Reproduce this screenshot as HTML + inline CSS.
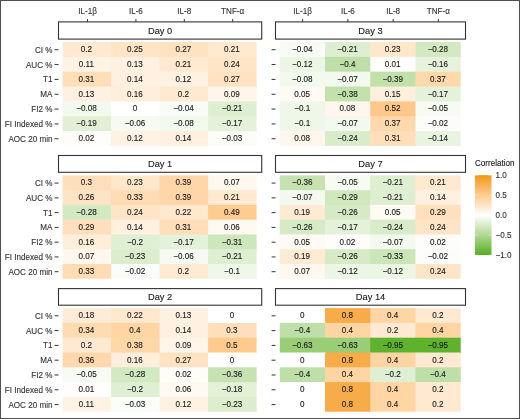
<!DOCTYPE html>
<html><head><meta charset="utf-8"><title>Correlation heatmap</title>
<style>
html,body{margin:0;padding:0;background:#fff;}
body{width:520px;height:419px;overflow:hidden;}
svg{display:block;will-change:transform;font-family:"Liberation Sans",sans-serif;}
text{font-family:"Liberation Sans",sans-serif;stroke-width:0.12px;paint-order:stroke;}
.v{font-size:8.1px;fill:#1a1a1a;stroke:#1a1a1a;text-anchor:middle;}
.st{font-size:9.3px;fill:#1a1a1a;stroke:#1a1a1a;text-anchor:middle;}
.yl{font-size:8.1px;fill:#333;stroke:#333;text-anchor:end;}
.xl{font-size:8.1px;fill:#333;stroke:#333;text-anchor:middle;}
.lt{font-size:8.1px;fill:#1a1a1a;stroke:#1a1a1a;}
.ll{font-size:8.1px;fill:#333;stroke:#333;}
.tk{stroke:#333;stroke-width:1;}
.lk{stroke:#fff;stroke-width:0.6;stroke-opacity:0.6;}
.strip{fill:#fff;stroke:#333;stroke-width:1.1;}
</style></head>
<body>
<svg width="520" height="419" viewBox="0 0 520 419">
<rect x="0" y="0" width="520" height="419" fill="#fff"/>
<rect x="62.60" y="42.00" width="49.50" height="15.84" fill="#ffead1"/>
<rect x="111.10" y="42.00" width="49.50" height="15.84" fill="#ffe4c6"/>
<rect x="159.60" y="42.00" width="49.50" height="15.84" fill="#ffe2c2"/>
<rect x="208.10" y="42.00" width="48.50" height="15.84" fill="#ffe9cf"/>
<rect x="62.60" y="56.84" width="49.50" height="15.84" fill="#fff3e6"/>
<rect x="111.10" y="56.84" width="49.50" height="15.84" fill="#fff1e1"/>
<rect x="159.60" y="56.84" width="49.50" height="15.84" fill="#ffe9cf"/>
<rect x="208.10" y="56.84" width="48.50" height="15.84" fill="#ffe5c8"/>
<rect x="62.60" y="71.69" width="49.50" height="15.84" fill="#ffdeb9"/>
<rect x="111.10" y="71.69" width="49.50" height="15.84" fill="#fff0df"/>
<rect x="159.60" y="71.69" width="49.50" height="15.84" fill="#fff2e3"/>
<rect x="208.10" y="71.69" width="48.50" height="15.84" fill="#ffe2c2"/>
<rect x="62.60" y="86.53" width="49.50" height="15.84" fill="#fff1e1"/>
<rect x="111.10" y="86.53" width="49.50" height="15.84" fill="#ffeeda"/>
<rect x="159.60" y="86.53" width="49.50" height="15.84" fill="#ffead1"/>
<rect x="208.10" y="86.53" width="48.50" height="15.84" fill="#fff5ea"/>
<rect x="62.60" y="101.37" width="49.50" height="15.84" fill="#f2f9ed"/>
<rect x="111.10" y="101.37" width="49.50" height="15.84" fill="#ffffff"/>
<rect x="159.60" y="101.37" width="49.50" height="15.84" fill="#f9fcf6"/>
<rect x="208.10" y="101.37" width="48.50" height="15.84" fill="#deeed1"/>
<rect x="62.60" y="116.21" width="49.50" height="15.84" fill="#e1f0d5"/>
<rect x="111.10" y="116.21" width="49.50" height="15.84" fill="#f6faf2"/>
<rect x="159.60" y="116.21" width="49.50" height="15.84" fill="#f2f9ed"/>
<rect x="208.10" y="116.21" width="48.50" height="15.84" fill="#e4f2d9"/>
<rect x="62.60" y="131.06" width="49.50" height="14.84" fill="#fffdfa"/>
<rect x="111.10" y="131.06" width="49.50" height="14.84" fill="#fff2e3"/>
<rect x="159.60" y="131.06" width="49.50" height="14.84" fill="#fff0df"/>
<rect x="208.10" y="131.06" width="48.50" height="14.84" fill="#fafdf8"/>
<text x="86.45" y="51.86" class="v" transform="matrix(1,0,0,1.07,0,-3.432)">0.2</text>
<text x="134.95" y="51.86" class="v" transform="matrix(1,0,0,1.07,0,-3.432)">0.25</text>
<text x="183.45" y="51.86" class="v" transform="matrix(1,0,0,1.07,0,-3.432)">0.27</text>
<text x="231.95" y="51.86" class="v" transform="matrix(1,0,0,1.07,0,-3.432)">0.21</text>
<text x="86.45" y="66.70" class="v" transform="matrix(1,0,0,1.07,0,-4.471)">0.11</text>
<text x="134.95" y="66.70" class="v" transform="matrix(1,0,0,1.07,0,-4.471)">0.13</text>
<text x="183.45" y="66.70" class="v" transform="matrix(1,0,0,1.07,0,-4.471)">0.21</text>
<text x="231.95" y="66.70" class="v" transform="matrix(1,0,0,1.07,0,-4.471)">0.24</text>
<text x="86.45" y="81.54" class="v" transform="matrix(1,0,0,1.07,0,-5.510)">0.31</text>
<text x="134.95" y="81.54" class="v" transform="matrix(1,0,0,1.07,0,-5.510)">0.14</text>
<text x="183.45" y="81.54" class="v" transform="matrix(1,0,0,1.07,0,-5.510)">0.12</text>
<text x="231.95" y="81.54" class="v" transform="matrix(1,0,0,1.07,0,-5.510)">0.27</text>
<text x="86.45" y="96.38" class="v" transform="matrix(1,0,0,1.07,0,-6.549)">0.13</text>
<text x="134.95" y="96.38" class="v" transform="matrix(1,0,0,1.07,0,-6.549)">0.16</text>
<text x="183.45" y="96.38" class="v" transform="matrix(1,0,0,1.07,0,-6.549)">0.2</text>
<text x="231.95" y="96.38" class="v" transform="matrix(1,0,0,1.07,0,-6.549)">0.09</text>
<text x="86.45" y="111.23" class="v" transform="matrix(1,0,0,1.07,0,-7.588)">−0.08</text>
<text x="134.95" y="111.23" class="v" transform="matrix(1,0,0,1.07,0,-7.588)">0</text>
<text x="183.45" y="111.23" class="v" transform="matrix(1,0,0,1.07,0,-7.588)">−0.04</text>
<text x="231.95" y="111.23" class="v" transform="matrix(1,0,0,1.07,0,-7.588)">−0.21</text>
<text x="86.45" y="126.07" class="v" transform="matrix(1,0,0,1.07,0,-8.627)">−0.19</text>
<text x="134.95" y="126.07" class="v" transform="matrix(1,0,0,1.07,0,-8.627)">−0.06</text>
<text x="183.45" y="126.07" class="v" transform="matrix(1,0,0,1.07,0,-8.627)">−0.08</text>
<text x="231.95" y="126.07" class="v" transform="matrix(1,0,0,1.07,0,-8.627)">−0.17</text>
<text x="86.45" y="140.91" class="v" transform="matrix(1,0,0,1.07,0,-9.666)">0.02</text>
<text x="134.95" y="140.91" class="v" transform="matrix(1,0,0,1.07,0,-9.666)">0.12</text>
<text x="183.45" y="140.91" class="v" transform="matrix(1,0,0,1.07,0,-9.666)">0.14</text>
<text x="231.95" y="140.91" class="v" transform="matrix(1,0,0,1.07,0,-9.666)">−0.03</text>
<rect x="58.50" y="21.90" width="203.20" height="17.20" class="strip"/>
<text x="160.10" y="33.55" class="st">Day 0</text>
<line x1="54.60" x2="58.50" y1="49.72" y2="49.72" class="tk"/>
<text x="52.50" y="52.56" class="yl" transform="matrix(1,0,0,1.07,0,-3.481)">CI %</text>
<line x1="54.60" x2="58.50" y1="64.56" y2="64.56" class="tk"/>
<text x="52.50" y="67.40" class="yl" transform="matrix(1,0,0,1.07,0,-4.520)">AUC %</text>
<line x1="54.60" x2="58.50" y1="79.41" y2="79.41" class="tk"/>
<text x="52.50" y="82.24" class="yl" transform="matrix(1,0,0,1.07,0,-5.559)">T1</text>
<line x1="54.60" x2="58.50" y1="94.25" y2="94.25" class="tk"/>
<text x="52.50" y="97.08" class="yl" transform="matrix(1,0,0,1.07,0,-6.598)">MA</text>
<line x1="54.60" x2="58.50" y1="109.09" y2="109.09" class="tk"/>
<text x="52.50" y="111.93" class="yl" transform="matrix(1,0,0,1.07,0,-7.637)">FI2 %</text>
<line x1="54.60" x2="58.50" y1="123.94" y2="123.94" class="tk"/>
<text x="52.50" y="126.77" class="yl" transform="matrix(1,0,0,1.07,0,-8.676)">FI Indexed %</text>
<line x1="54.60" x2="58.50" y1="138.78" y2="138.78" class="tk"/>
<text x="52.50" y="141.61" class="yl" transform="matrix(1,0,0,1.07,0,-9.715)">AOC 20 min</text>
<line x1="87.53" x2="87.53" y1="19.10" y2="21.90" class="tk"/>
<text x="87.53" y="14.00" class="xl" transform="matrix(1,0,0,1.07,0,-0.777)">IL-1β</text>
<line x1="135.91" x2="135.91" y1="19.10" y2="21.90" class="tk"/>
<text x="135.91" y="14.00" class="xl" transform="matrix(1,0,0,1.07,0,-0.777)">IL-6</text>
<line x1="184.29" x2="184.29" y1="19.10" y2="21.90" class="tk"/>
<text x="184.29" y="14.00" class="xl" transform="matrix(1,0,0,1.07,0,-0.777)">IL-8</text>
<line x1="232.67" x2="232.67" y1="19.10" y2="21.90" class="tk"/>
<text x="232.67" y="14.00" class="xl" transform="matrix(1,0,0,1.07,0,-0.777)">TNF-α</text>
<rect x="279.80" y="42.00" width="46.22" height="15.84" fill="#f9fcf6"/>
<rect x="325.02" y="42.00" width="46.22" height="15.84" fill="#deeed1"/>
<rect x="370.25" y="42.00" width="46.22" height="15.84" fill="#ffe7cb"/>
<rect x="415.48" y="42.00" width="45.22" height="15.84" fill="#d3e9c1"/>
<rect x="279.80" y="56.84" width="46.22" height="15.84" fill="#ecf6e4"/>
<rect x="325.02" y="56.84" width="46.22" height="15.84" fill="#bfdfa8"/>
<rect x="370.25" y="56.84" width="46.22" height="15.84" fill="#fffefd"/>
<rect x="415.48" y="56.84" width="45.22" height="15.84" fill="#e6f2dc"/>
<rect x="279.80" y="71.69" width="46.22" height="15.84" fill="#f2f9ed"/>
<rect x="325.02" y="71.69" width="46.22" height="15.84" fill="#f4f9ef"/>
<rect x="370.25" y="71.69" width="46.22" height="15.84" fill="#c1e0aa"/>
<rect x="415.48" y="71.69" width="45.22" height="15.84" fill="#ffd8ab"/>
<rect x="279.80" y="86.53" width="46.22" height="15.84" fill="#fffaf3"/>
<rect x="325.02" y="86.53" width="46.22" height="15.84" fill="#c3e1ac"/>
<rect x="370.25" y="86.53" width="46.22" height="15.84" fill="#ffefdd"/>
<rect x="415.48" y="86.53" width="45.22" height="15.84" fill="#e4f2d9"/>
<rect x="279.80" y="101.37" width="46.22" height="15.84" fill="#eff7e9"/>
<rect x="325.02" y="101.37" width="46.22" height="15.84" fill="#fff6ed"/>
<rect x="370.25" y="101.37" width="46.22" height="15.84" fill="#ffc88a"/>
<rect x="415.48" y="101.37" width="45.22" height="15.84" fill="#f7fbf4"/>
<rect x="279.80" y="116.21" width="46.22" height="15.84" fill="#eff7e9"/>
<rect x="325.02" y="116.21" width="46.22" height="15.84" fill="#f4f9ef"/>
<rect x="370.25" y="116.21" width="46.22" height="15.84" fill="#ffd8ab"/>
<rect x="415.48" y="116.21" width="45.22" height="15.84" fill="#fcfdfb"/>
<rect x="279.80" y="131.06" width="46.22" height="14.84" fill="#fff6ed"/>
<rect x="325.02" y="131.06" width="46.22" height="14.84" fill="#d9ecca"/>
<rect x="370.25" y="131.06" width="46.22" height="14.84" fill="#ffdeb9"/>
<rect x="415.48" y="131.06" width="45.22" height="14.84" fill="#e9f4e0"/>
<text x="302.21" y="51.86" class="v" transform="matrix(1,0,0,1.07,0,-3.432)">−0.04</text>
<text x="347.44" y="51.86" class="v" transform="matrix(1,0,0,1.07,0,-3.432)">−0.21</text>
<text x="392.66" y="51.86" class="v" transform="matrix(1,0,0,1.07,0,-3.432)">0.23</text>
<text x="437.89" y="51.86" class="v" transform="matrix(1,0,0,1.07,0,-3.432)">−0.28</text>
<text x="302.21" y="66.70" class="v" transform="matrix(1,0,0,1.07,0,-4.471)">−0.12</text>
<text x="347.44" y="66.70" class="v" transform="matrix(1,0,0,1.07,0,-4.471)">−0.4</text>
<text x="392.66" y="66.70" class="v" transform="matrix(1,0,0,1.07,0,-4.471)">0.01</text>
<text x="437.89" y="66.70" class="v" transform="matrix(1,0,0,1.07,0,-4.471)">−0.16</text>
<text x="302.21" y="81.54" class="v" transform="matrix(1,0,0,1.07,0,-5.510)">−0.08</text>
<text x="347.44" y="81.54" class="v" transform="matrix(1,0,0,1.07,0,-5.510)">−0.07</text>
<text x="392.66" y="81.54" class="v" transform="matrix(1,0,0,1.07,0,-5.510)">−0.39</text>
<text x="437.89" y="81.54" class="v" transform="matrix(1,0,0,1.07,0,-5.510)">0.37</text>
<text x="302.21" y="96.38" class="v" transform="matrix(1,0,0,1.07,0,-6.549)">0.05</text>
<text x="347.44" y="96.38" class="v" transform="matrix(1,0,0,1.07,0,-6.549)">−0.38</text>
<text x="392.66" y="96.38" class="v" transform="matrix(1,0,0,1.07,0,-6.549)">0.15</text>
<text x="437.89" y="96.38" class="v" transform="matrix(1,0,0,1.07,0,-6.549)">−0.17</text>
<text x="302.21" y="111.23" class="v" transform="matrix(1,0,0,1.07,0,-7.588)">−0.1</text>
<text x="347.44" y="111.23" class="v" transform="matrix(1,0,0,1.07,0,-7.588)">0.08</text>
<text x="392.66" y="111.23" class="v" transform="matrix(1,0,0,1.07,0,-7.588)">0.52</text>
<text x="437.89" y="111.23" class="v" transform="matrix(1,0,0,1.07,0,-7.588)">−0.05</text>
<text x="302.21" y="126.07" class="v" transform="matrix(1,0,0,1.07,0,-8.627)">−0.1</text>
<text x="347.44" y="126.07" class="v" transform="matrix(1,0,0,1.07,0,-8.627)">−0.07</text>
<text x="392.66" y="126.07" class="v" transform="matrix(1,0,0,1.07,0,-8.627)">0.37</text>
<text x="437.89" y="126.07" class="v" transform="matrix(1,0,0,1.07,0,-8.627)">−0.02</text>
<text x="302.21" y="140.91" class="v" transform="matrix(1,0,0,1.07,0,-9.666)">0.08</text>
<text x="347.44" y="140.91" class="v" transform="matrix(1,0,0,1.07,0,-9.666)">−0.24</text>
<text x="392.66" y="140.91" class="v" transform="matrix(1,0,0,1.07,0,-9.666)">0.31</text>
<text x="437.89" y="140.91" class="v" transform="matrix(1,0,0,1.07,0,-9.666)">−0.14</text>
<rect x="275.50" y="21.90" width="190.00" height="17.20" class="strip"/>
<text x="370.50" y="33.55" class="st">Day 3</text>
<line x1="271.60" x2="275.50" y1="49.72" y2="49.72" class="tk"/>
<line x1="271.60" x2="275.50" y1="64.56" y2="64.56" class="tk"/>
<line x1="271.60" x2="275.50" y1="79.41" y2="79.41" class="tk"/>
<line x1="271.60" x2="275.50" y1="94.25" y2="94.25" class="tk"/>
<line x1="271.60" x2="275.50" y1="109.09" y2="109.09" class="tk"/>
<line x1="271.60" x2="275.50" y1="123.94" y2="123.94" class="tk"/>
<line x1="271.60" x2="275.50" y1="138.78" y2="138.78" class="tk"/>
<line x1="302.64" x2="302.64" y1="19.10" y2="21.90" class="tk"/>
<text x="302.64" y="14.00" class="xl" transform="matrix(1,0,0,1.07,0,-0.777)">IL-1β</text>
<line x1="347.88" x2="347.88" y1="19.10" y2="21.90" class="tk"/>
<text x="347.88" y="14.00" class="xl" transform="matrix(1,0,0,1.07,0,-0.777)">IL-6</text>
<line x1="393.12" x2="393.12" y1="19.10" y2="21.90" class="tk"/>
<text x="393.12" y="14.00" class="xl" transform="matrix(1,0,0,1.07,0,-0.777)">IL-8</text>
<line x1="438.36" x2="438.36" y1="19.10" y2="21.90" class="tk"/>
<text x="438.36" y="14.00" class="xl" transform="matrix(1,0,0,1.07,0,-0.777)">TNF-α</text>
<rect x="62.60" y="175.40" width="49.50" height="15.77" fill="#ffdfbb"/>
<rect x="111.10" y="175.40" width="49.50" height="15.77" fill="#ffe7cb"/>
<rect x="159.60" y="175.40" width="49.50" height="15.77" fill="#ffd6a7"/>
<rect x="208.10" y="175.40" width="48.50" height="15.77" fill="#fff8ef"/>
<rect x="62.60" y="190.17" width="49.50" height="15.77" fill="#ffe3c4"/>
<rect x="111.10" y="190.17" width="49.50" height="15.77" fill="#ffdcb4"/>
<rect x="159.60" y="190.17" width="49.50" height="15.77" fill="#ffd6a7"/>
<rect x="208.10" y="190.17" width="48.50" height="15.77" fill="#ffe9cf"/>
<rect x="62.60" y="204.94" width="49.50" height="15.77" fill="#d3e9c1"/>
<rect x="111.10" y="204.94" width="49.50" height="15.77" fill="#ffe5c8"/>
<rect x="159.60" y="204.94" width="49.50" height="15.77" fill="#ffe8cd"/>
<rect x="208.10" y="204.94" width="48.50" height="15.77" fill="#ffcb90"/>
<rect x="62.60" y="219.71" width="49.50" height="15.77" fill="#ffe0bd"/>
<rect x="111.10" y="219.71" width="49.50" height="15.77" fill="#fff0df"/>
<rect x="159.60" y="219.71" width="49.50" height="15.77" fill="#ffdeb9"/>
<rect x="208.10" y="219.71" width="48.50" height="15.77" fill="#fff9f1"/>
<rect x="62.60" y="234.49" width="49.50" height="15.77" fill="#ffeeda"/>
<rect x="111.10" y="234.49" width="49.50" height="15.77" fill="#dfefd3"/>
<rect x="159.60" y="234.49" width="49.50" height="15.77" fill="#e4f2d9"/>
<rect x="208.10" y="234.49" width="48.50" height="15.77" fill="#cee6bb"/>
<rect x="62.60" y="249.26" width="49.50" height="15.77" fill="#fff8ef"/>
<rect x="111.10" y="249.26" width="49.50" height="15.77" fill="#dbedcc"/>
<rect x="159.60" y="249.26" width="49.50" height="15.77" fill="#f6faf2"/>
<rect x="208.10" y="249.26" width="48.50" height="15.77" fill="#deeed1"/>
<rect x="62.60" y="264.03" width="49.50" height="14.77" fill="#ffdcb4"/>
<rect x="111.10" y="264.03" width="49.50" height="14.77" fill="#fcfdfb"/>
<rect x="159.60" y="264.03" width="49.50" height="14.77" fill="#ffead1"/>
<rect x="208.10" y="264.03" width="48.50" height="14.77" fill="#eff7e9"/>
<text x="86.45" y="185.22" class="v" transform="matrix(1,0,0,1.07,0,-12.767)">0.3</text>
<text x="134.95" y="185.22" class="v" transform="matrix(1,0,0,1.07,0,-12.767)">0.23</text>
<text x="183.45" y="185.22" class="v" transform="matrix(1,0,0,1.07,0,-12.767)">0.39</text>
<text x="231.95" y="185.22" class="v" transform="matrix(1,0,0,1.07,0,-12.767)">0.07</text>
<text x="86.45" y="199.99" class="v" transform="matrix(1,0,0,1.07,0,-13.801)">0.26</text>
<text x="134.95" y="199.99" class="v" transform="matrix(1,0,0,1.07,0,-13.801)">0.33</text>
<text x="183.45" y="199.99" class="v" transform="matrix(1,0,0,1.07,0,-13.801)">0.39</text>
<text x="231.95" y="199.99" class="v" transform="matrix(1,0,0,1.07,0,-13.801)">0.21</text>
<text x="86.45" y="214.76" class="v" transform="matrix(1,0,0,1.07,0,-14.835)">−0.28</text>
<text x="134.95" y="214.76" class="v" transform="matrix(1,0,0,1.07,0,-14.835)">0.24</text>
<text x="183.45" y="214.76" class="v" transform="matrix(1,0,0,1.07,0,-14.835)">0.22</text>
<text x="231.95" y="214.76" class="v" transform="matrix(1,0,0,1.07,0,-14.835)">0.49</text>
<text x="86.45" y="229.54" class="v" transform="matrix(1,0,0,1.07,0,-15.869)">0.29</text>
<text x="134.95" y="229.54" class="v" transform="matrix(1,0,0,1.07,0,-15.869)">0.14</text>
<text x="183.45" y="229.54" class="v" transform="matrix(1,0,0,1.07,0,-15.869)">0.31</text>
<text x="231.95" y="229.54" class="v" transform="matrix(1,0,0,1.07,0,-15.869)">0.06</text>
<text x="86.45" y="244.31" class="v" transform="matrix(1,0,0,1.07,0,-16.903)">0.16</text>
<text x="134.95" y="244.31" class="v" transform="matrix(1,0,0,1.07,0,-16.903)">−0.2</text>
<text x="183.45" y="244.31" class="v" transform="matrix(1,0,0,1.07,0,-16.903)">−0.17</text>
<text x="231.95" y="244.31" class="v" transform="matrix(1,0,0,1.07,0,-16.903)">−0.31</text>
<text x="86.45" y="259.08" class="v" transform="matrix(1,0,0,1.07,0,-17.937)">0.07</text>
<text x="134.95" y="259.08" class="v" transform="matrix(1,0,0,1.07,0,-17.937)">−0.23</text>
<text x="183.45" y="259.08" class="v" transform="matrix(1,0,0,1.07,0,-17.937)">−0.06</text>
<text x="231.95" y="259.08" class="v" transform="matrix(1,0,0,1.07,0,-17.937)">−0.21</text>
<text x="86.45" y="273.85" class="v" transform="matrix(1,0,0,1.07,0,-18.971)">0.33</text>
<text x="134.95" y="273.85" class="v" transform="matrix(1,0,0,1.07,0,-18.971)">−0.02</text>
<text x="183.45" y="273.85" class="v" transform="matrix(1,0,0,1.07,0,-18.971)">0.2</text>
<text x="231.95" y="273.85" class="v" transform="matrix(1,0,0,1.07,0,-18.971)">−0.1</text>
<rect x="58.50" y="155.50" width="203.20" height="16.80" class="strip"/>
<text x="160.10" y="166.95" class="st">Day 1</text>
<line x1="54.60" x2="58.50" y1="183.09" y2="183.09" class="tk"/>
<text x="52.50" y="185.92" class="yl" transform="matrix(1,0,0,1.07,0,-12.816)">CI %</text>
<line x1="54.60" x2="58.50" y1="197.86" y2="197.86" class="tk"/>
<text x="52.50" y="200.69" class="yl" transform="matrix(1,0,0,1.07,0,-13.850)">AUC %</text>
<line x1="54.60" x2="58.50" y1="212.63" y2="212.63" class="tk"/>
<text x="52.50" y="215.46" class="yl" transform="matrix(1,0,0,1.07,0,-14.884)">T1</text>
<line x1="54.60" x2="58.50" y1="227.40" y2="227.40" class="tk"/>
<text x="52.50" y="230.24" class="yl" transform="matrix(1,0,0,1.07,0,-15.918)">MA</text>
<line x1="54.60" x2="58.50" y1="242.17" y2="242.17" class="tk"/>
<text x="52.50" y="245.01" class="yl" transform="matrix(1,0,0,1.07,0,-16.952)">FI2 %</text>
<line x1="54.60" x2="58.50" y1="256.94" y2="256.94" class="tk"/>
<text x="52.50" y="259.78" class="yl" transform="matrix(1,0,0,1.07,0,-17.986)">FI Indexed %</text>
<line x1="54.60" x2="58.50" y1="271.71" y2="271.71" class="tk"/>
<text x="52.50" y="274.55" class="yl" transform="matrix(1,0,0,1.07,0,-19.020)">AOC 20 min</text>
<rect x="279.80" y="175.40" width="46.22" height="15.77" fill="#c6e2b0"/>
<rect x="325.02" y="175.40" width="46.22" height="15.77" fill="#f7fbf4"/>
<rect x="370.25" y="175.40" width="46.22" height="15.77" fill="#deeed1"/>
<rect x="415.48" y="175.40" width="45.22" height="15.77" fill="#ffe9cf"/>
<rect x="279.80" y="190.17" width="46.22" height="15.77" fill="#f4f9ef"/>
<rect x="325.02" y="190.17" width="46.22" height="15.77" fill="#d1e8bf"/>
<rect x="370.25" y="190.17" width="46.22" height="15.77" fill="#deeed1"/>
<rect x="415.48" y="190.17" width="45.22" height="15.77" fill="#fff0df"/>
<rect x="279.80" y="204.94" width="46.22" height="15.77" fill="#ffebd4"/>
<rect x="325.02" y="204.94" width="46.22" height="15.77" fill="#d6eac6"/>
<rect x="370.25" y="204.94" width="46.22" height="15.77" fill="#fffaf3"/>
<rect x="415.48" y="204.94" width="45.22" height="15.77" fill="#ffe0bd"/>
<rect x="279.80" y="219.71" width="46.22" height="15.77" fill="#d6eac6"/>
<rect x="325.02" y="219.71" width="46.22" height="15.77" fill="#e4f2d9"/>
<rect x="370.25" y="219.71" width="46.22" height="15.77" fill="#d9ecca"/>
<rect x="415.48" y="219.71" width="45.22" height="15.77" fill="#ffe5c8"/>
<rect x="279.80" y="234.49" width="46.22" height="15.77" fill="#fffaf3"/>
<rect x="325.02" y="234.49" width="46.22" height="15.77" fill="#fffdfa"/>
<rect x="370.25" y="234.49" width="46.22" height="15.77" fill="#f4f9ef"/>
<rect x="415.48" y="234.49" width="45.22" height="15.77" fill="#fffdfa"/>
<rect x="279.80" y="249.26" width="46.22" height="15.77" fill="#ffebd4"/>
<rect x="325.02" y="249.26" width="46.22" height="15.77" fill="#d6eac6"/>
<rect x="370.25" y="249.26" width="46.22" height="15.77" fill="#cbe5b7"/>
<rect x="415.48" y="249.26" width="45.22" height="15.77" fill="#fcfdfb"/>
<rect x="279.80" y="264.03" width="46.22" height="14.77" fill="#fff8ef"/>
<rect x="325.02" y="264.03" width="46.22" height="14.77" fill="#ecf6e4"/>
<rect x="370.25" y="264.03" width="46.22" height="14.77" fill="#ecf6e4"/>
<rect x="415.48" y="264.03" width="45.22" height="14.77" fill="#ffe5c8"/>
<text x="302.21" y="185.22" class="v" transform="matrix(1,0,0,1.07,0,-12.767)">−0.36</text>
<text x="347.44" y="185.22" class="v" transform="matrix(1,0,0,1.07,0,-12.767)">−0.05</text>
<text x="392.66" y="185.22" class="v" transform="matrix(1,0,0,1.07,0,-12.767)">−0.21</text>
<text x="437.89" y="185.22" class="v" transform="matrix(1,0,0,1.07,0,-12.767)">0.21</text>
<text x="302.21" y="199.99" class="v" transform="matrix(1,0,0,1.07,0,-13.801)">−0.07</text>
<text x="347.44" y="199.99" class="v" transform="matrix(1,0,0,1.07,0,-13.801)">−0.29</text>
<text x="392.66" y="199.99" class="v" transform="matrix(1,0,0,1.07,0,-13.801)">−0.21</text>
<text x="437.89" y="199.99" class="v" transform="matrix(1,0,0,1.07,0,-13.801)">0.14</text>
<text x="302.21" y="214.76" class="v" transform="matrix(1,0,0,1.07,0,-14.835)">0.19</text>
<text x="347.44" y="214.76" class="v" transform="matrix(1,0,0,1.07,0,-14.835)">−0.26</text>
<text x="392.66" y="214.76" class="v" transform="matrix(1,0,0,1.07,0,-14.835)">0.05</text>
<text x="437.89" y="214.76" class="v" transform="matrix(1,0,0,1.07,0,-14.835)">0.29</text>
<text x="302.21" y="229.54" class="v" transform="matrix(1,0,0,1.07,0,-15.869)">−0.26</text>
<text x="347.44" y="229.54" class="v" transform="matrix(1,0,0,1.07,0,-15.869)">−0.17</text>
<text x="392.66" y="229.54" class="v" transform="matrix(1,0,0,1.07,0,-15.869)">−0.24</text>
<text x="437.89" y="229.54" class="v" transform="matrix(1,0,0,1.07,0,-15.869)">0.24</text>
<text x="302.21" y="244.31" class="v" transform="matrix(1,0,0,1.07,0,-16.903)">0.05</text>
<text x="347.44" y="244.31" class="v" transform="matrix(1,0,0,1.07,0,-16.903)">0.02</text>
<text x="392.66" y="244.31" class="v" transform="matrix(1,0,0,1.07,0,-16.903)">−0.07</text>
<text x="437.89" y="244.31" class="v" transform="matrix(1,0,0,1.07,0,-16.903)">0.02</text>
<text x="302.21" y="259.08" class="v" transform="matrix(1,0,0,1.07,0,-17.937)">0.19</text>
<text x="347.44" y="259.08" class="v" transform="matrix(1,0,0,1.07,0,-17.937)">−0.26</text>
<text x="392.66" y="259.08" class="v" transform="matrix(1,0,0,1.07,0,-17.937)">−0.33</text>
<text x="437.89" y="259.08" class="v" transform="matrix(1,0,0,1.07,0,-17.937)">−0.02</text>
<text x="302.21" y="273.85" class="v" transform="matrix(1,0,0,1.07,0,-18.971)">0.07</text>
<text x="347.44" y="273.85" class="v" transform="matrix(1,0,0,1.07,0,-18.971)">−0.12</text>
<text x="392.66" y="273.85" class="v" transform="matrix(1,0,0,1.07,0,-18.971)">−0.12</text>
<text x="437.89" y="273.85" class="v" transform="matrix(1,0,0,1.07,0,-18.971)">0.24</text>
<rect x="275.50" y="155.50" width="190.00" height="16.80" class="strip"/>
<text x="370.50" y="166.95" class="st">Day 7</text>
<line x1="271.60" x2="275.50" y1="183.09" y2="183.09" class="tk"/>
<line x1="271.60" x2="275.50" y1="197.86" y2="197.86" class="tk"/>
<line x1="271.60" x2="275.50" y1="212.63" y2="212.63" class="tk"/>
<line x1="271.60" x2="275.50" y1="227.40" y2="227.40" class="tk"/>
<line x1="271.60" x2="275.50" y1="242.17" y2="242.17" class="tk"/>
<line x1="271.60" x2="275.50" y1="256.94" y2="256.94" class="tk"/>
<line x1="271.60" x2="275.50" y1="271.71" y2="271.71" class="tk"/>
<rect x="62.60" y="308.10" width="49.50" height="15.80" fill="#ffecd6"/>
<rect x="111.10" y="308.10" width="49.50" height="15.80" fill="#ffe8cd"/>
<rect x="159.60" y="308.10" width="49.50" height="15.80" fill="#fff1e1"/>
<rect x="208.10" y="308.10" width="48.50" height="15.80" fill="#ffffff"/>
<rect x="62.60" y="322.90" width="49.50" height="15.80" fill="#ffdbb2"/>
<rect x="111.10" y="322.90" width="49.50" height="15.80" fill="#ffd5a4"/>
<rect x="159.60" y="322.90" width="49.50" height="15.80" fill="#fff0df"/>
<rect x="208.10" y="322.90" width="48.50" height="15.80" fill="#ffdfbb"/>
<rect x="62.60" y="337.70" width="49.50" height="15.80" fill="#ffead1"/>
<rect x="111.10" y="337.70" width="49.50" height="15.80" fill="#ffd7a9"/>
<rect x="159.60" y="337.70" width="49.50" height="15.80" fill="#fff5ea"/>
<rect x="208.10" y="337.70" width="48.50" height="15.80" fill="#ffca8e"/>
<rect x="62.60" y="352.50" width="49.50" height="15.80" fill="#ffd9ad"/>
<rect x="111.10" y="352.50" width="49.50" height="15.80" fill="#ffeeda"/>
<rect x="159.60" y="352.50" width="49.50" height="15.80" fill="#ffe2c2"/>
<rect x="208.10" y="352.50" width="48.50" height="15.80" fill="#ffffff"/>
<rect x="62.60" y="367.30" width="49.50" height="15.80" fill="#f7fbf4"/>
<rect x="111.10" y="367.30" width="49.50" height="15.80" fill="#d3e9c1"/>
<rect x="159.60" y="367.30" width="49.50" height="15.80" fill="#fffdfa"/>
<rect x="208.10" y="367.30" width="48.50" height="15.80" fill="#c6e2b0"/>
<rect x="62.60" y="382.10" width="49.50" height="15.80" fill="#fffefd"/>
<rect x="111.10" y="382.10" width="49.50" height="15.80" fill="#dfefd3"/>
<rect x="159.60" y="382.10" width="49.50" height="15.80" fill="#fff9f1"/>
<rect x="208.10" y="382.10" width="48.50" height="15.80" fill="#e3f1d7"/>
<rect x="62.60" y="396.90" width="49.50" height="14.80" fill="#fff3e6"/>
<rect x="111.10" y="396.90" width="49.50" height="14.80" fill="#fafdf8"/>
<rect x="159.60" y="396.90" width="49.50" height="14.80" fill="#fff2e3"/>
<rect x="208.10" y="396.90" width="48.50" height="14.80" fill="#dbedcc"/>
<text x="86.45" y="317.94" class="v" transform="matrix(1,0,0,1.07,0,-22.057)">0.18</text>
<text x="134.95" y="317.94" class="v" transform="matrix(1,0,0,1.07,0,-22.057)">0.22</text>
<text x="183.45" y="317.94" class="v" transform="matrix(1,0,0,1.07,0,-22.057)">0.13</text>
<text x="231.95" y="317.94" class="v" transform="matrix(1,0,0,1.07,0,-22.057)">0</text>
<text x="86.45" y="332.74" class="v" transform="matrix(1,0,0,1.07,0,-23.093)">0.34</text>
<text x="134.95" y="332.74" class="v" transform="matrix(1,0,0,1.07,0,-23.093)">0.4</text>
<text x="183.45" y="332.74" class="v" transform="matrix(1,0,0,1.07,0,-23.093)">0.14</text>
<text x="231.95" y="332.74" class="v" transform="matrix(1,0,0,1.07,0,-23.093)">0.3</text>
<text x="86.45" y="347.54" class="v" transform="matrix(1,0,0,1.07,0,-24.129)">0.2</text>
<text x="134.95" y="347.54" class="v" transform="matrix(1,0,0,1.07,0,-24.129)">0.38</text>
<text x="183.45" y="347.54" class="v" transform="matrix(1,0,0,1.07,0,-24.129)">0.09</text>
<text x="231.95" y="347.54" class="v" transform="matrix(1,0,0,1.07,0,-24.129)">0.5</text>
<text x="86.45" y="362.33" class="v" transform="matrix(1,0,0,1.07,0,-25.165)">0.36</text>
<text x="134.95" y="362.33" class="v" transform="matrix(1,0,0,1.07,0,-25.165)">0.16</text>
<text x="183.45" y="362.33" class="v" transform="matrix(1,0,0,1.07,0,-25.165)">0.27</text>
<text x="231.95" y="362.33" class="v" transform="matrix(1,0,0,1.07,0,-25.165)">0</text>
<text x="86.45" y="377.13" class="v" transform="matrix(1,0,0,1.07,0,-26.201)">−0.05</text>
<text x="134.95" y="377.13" class="v" transform="matrix(1,0,0,1.07,0,-26.201)">−0.28</text>
<text x="183.45" y="377.13" class="v" transform="matrix(1,0,0,1.07,0,-26.201)">0.02</text>
<text x="231.95" y="377.13" class="v" transform="matrix(1,0,0,1.07,0,-26.201)">−0.36</text>
<text x="86.45" y="391.94" class="v" transform="matrix(1,0,0,1.07,0,-27.237)">0.01</text>
<text x="134.95" y="391.94" class="v" transform="matrix(1,0,0,1.07,0,-27.237)">−0.2</text>
<text x="183.45" y="391.94" class="v" transform="matrix(1,0,0,1.07,0,-27.237)">0.06</text>
<text x="231.95" y="391.94" class="v" transform="matrix(1,0,0,1.07,0,-27.237)">−0.18</text>
<text x="86.45" y="406.74" class="v" transform="matrix(1,0,0,1.07,0,-28.273)">0.11</text>
<text x="134.95" y="406.74" class="v" transform="matrix(1,0,0,1.07,0,-28.273)">−0.03</text>
<text x="183.45" y="406.74" class="v" transform="matrix(1,0,0,1.07,0,-28.273)">0.12</text>
<text x="231.95" y="406.74" class="v" transform="matrix(1,0,0,1.07,0,-28.273)">−0.23</text>
<rect x="58.50" y="288.60" width="203.20" height="16.60" class="strip"/>
<text x="160.10" y="299.95" class="st">Day 2</text>
<line x1="54.60" x2="58.50" y1="315.80" y2="315.80" class="tk"/>
<text x="52.50" y="318.63" class="yl" transform="matrix(1,0,0,1.07,0,-22.106)">CI %</text>
<line x1="54.60" x2="58.50" y1="330.60" y2="330.60" class="tk"/>
<text x="52.50" y="333.44" class="yl" transform="matrix(1,0,0,1.07,0,-23.142)">AUC %</text>
<line x1="54.60" x2="58.50" y1="345.40" y2="345.40" class="tk"/>
<text x="52.50" y="348.24" class="yl" transform="matrix(1,0,0,1.07,0,-24.178)">T1</text>
<line x1="54.60" x2="58.50" y1="360.20" y2="360.20" class="tk"/>
<text x="52.50" y="363.03" class="yl" transform="matrix(1,0,0,1.07,0,-25.214)">MA</text>
<line x1="54.60" x2="58.50" y1="375.00" y2="375.00" class="tk"/>
<text x="52.50" y="377.83" class="yl" transform="matrix(1,0,0,1.07,0,-26.250)">FI2 %</text>
<line x1="54.60" x2="58.50" y1="389.80" y2="389.80" class="tk"/>
<text x="52.50" y="392.63" class="yl" transform="matrix(1,0,0,1.07,0,-27.286)">FI Indexed %</text>
<line x1="54.60" x2="58.50" y1="404.60" y2="404.60" class="tk"/>
<text x="52.50" y="407.44" class="yl" transform="matrix(1,0,0,1.07,0,-28.322)">AOC 20 min</text>
<rect x="279.80" y="308.10" width="46.22" height="15.80" fill="#ffffff"/>
<rect x="325.02" y="308.10" width="46.22" height="15.80" fill="#f8ac49"/>
<rect x="370.25" y="308.10" width="46.22" height="15.80" fill="#ffd5a4"/>
<rect x="415.48" y="308.10" width="45.22" height="15.80" fill="#ffead1"/>
<rect x="279.80" y="322.90" width="46.22" height="15.80" fill="#bfdfa8"/>
<rect x="325.02" y="322.90" width="46.22" height="15.80" fill="#ffd5a4"/>
<rect x="370.25" y="322.90" width="46.22" height="15.80" fill="#ffead1"/>
<rect x="415.48" y="322.90" width="45.22" height="15.80" fill="#ffd5a4"/>
<rect x="279.80" y="337.70" width="46.22" height="15.80" fill="#99cd76"/>
<rect x="325.02" y="337.70" width="46.22" height="15.80" fill="#99cd76"/>
<rect x="370.25" y="337.70" width="46.22" height="15.80" fill="#5eb22c"/>
<rect x="415.48" y="337.70" width="45.22" height="15.80" fill="#5eb22c"/>
<rect x="279.80" y="352.50" width="46.22" height="15.80" fill="#ffffff"/>
<rect x="325.02" y="352.50" width="46.22" height="15.80" fill="#f8ac49"/>
<rect x="370.25" y="352.50" width="46.22" height="15.80" fill="#ffd5a4"/>
<rect x="415.48" y="352.50" width="45.22" height="15.80" fill="#ffead1"/>
<rect x="279.80" y="367.30" width="46.22" height="15.80" fill="#bfdfa8"/>
<rect x="325.02" y="367.30" width="46.22" height="15.80" fill="#ffd5a4"/>
<rect x="370.25" y="367.30" width="46.22" height="15.80" fill="#dfefd3"/>
<rect x="415.48" y="367.30" width="45.22" height="15.80" fill="#bfdfa8"/>
<rect x="279.80" y="382.10" width="46.22" height="15.80" fill="#ffffff"/>
<rect x="325.02" y="382.10" width="46.22" height="15.80" fill="#f8ac49"/>
<rect x="370.25" y="382.10" width="46.22" height="15.80" fill="#ffd5a4"/>
<rect x="415.48" y="382.10" width="45.22" height="15.80" fill="#ffead1"/>
<rect x="279.80" y="396.90" width="46.22" height="14.80" fill="#ffffff"/>
<rect x="325.02" y="396.90" width="46.22" height="14.80" fill="#f8ac49"/>
<rect x="370.25" y="396.90" width="46.22" height="14.80" fill="#ffd5a4"/>
<rect x="415.48" y="396.90" width="45.22" height="14.80" fill="#ffead1"/>
<text x="302.21" y="317.94" class="v" transform="matrix(1,0,0,1.07,0,-22.057)">0</text>
<text x="347.44" y="317.94" class="v" transform="matrix(1,0,0,1.07,0,-22.057)">0.8</text>
<text x="392.66" y="317.94" class="v" transform="matrix(1,0,0,1.07,0,-22.057)">0.4</text>
<text x="437.89" y="317.94" class="v" transform="matrix(1,0,0,1.07,0,-22.057)">0.2</text>
<text x="302.21" y="332.74" class="v" transform="matrix(1,0,0,1.07,0,-23.093)">−0.4</text>
<text x="347.44" y="332.74" class="v" transform="matrix(1,0,0,1.07,0,-23.093)">0.4</text>
<text x="392.66" y="332.74" class="v" transform="matrix(1,0,0,1.07,0,-23.093)">0.2</text>
<text x="437.89" y="332.74" class="v" transform="matrix(1,0,0,1.07,0,-23.093)">0.4</text>
<text x="302.21" y="347.54" class="v" transform="matrix(1,0,0,1.07,0,-24.129)">−0.63</text>
<text x="347.44" y="347.54" class="v" transform="matrix(1,0,0,1.07,0,-24.129)">−0.63</text>
<text x="392.66" y="347.54" class="v" transform="matrix(1,0,0,1.07,0,-24.129)">−0.95</text>
<text x="437.89" y="347.54" class="v" transform="matrix(1,0,0,1.07,0,-24.129)">−0.95</text>
<text x="302.21" y="362.33" class="v" transform="matrix(1,0,0,1.07,0,-25.165)">0</text>
<text x="347.44" y="362.33" class="v" transform="matrix(1,0,0,1.07,0,-25.165)">0.8</text>
<text x="392.66" y="362.33" class="v" transform="matrix(1,0,0,1.07,0,-25.165)">0.4</text>
<text x="437.89" y="362.33" class="v" transform="matrix(1,0,0,1.07,0,-25.165)">0.2</text>
<text x="302.21" y="377.13" class="v" transform="matrix(1,0,0,1.07,0,-26.201)">−0.4</text>
<text x="347.44" y="377.13" class="v" transform="matrix(1,0,0,1.07,0,-26.201)">0.4</text>
<text x="392.66" y="377.13" class="v" transform="matrix(1,0,0,1.07,0,-26.201)">−0.2</text>
<text x="437.89" y="377.13" class="v" transform="matrix(1,0,0,1.07,0,-26.201)">−0.4</text>
<text x="302.21" y="391.94" class="v" transform="matrix(1,0,0,1.07,0,-27.237)">0</text>
<text x="347.44" y="391.94" class="v" transform="matrix(1,0,0,1.07,0,-27.237)">0.8</text>
<text x="392.66" y="391.94" class="v" transform="matrix(1,0,0,1.07,0,-27.237)">0.4</text>
<text x="437.89" y="391.94" class="v" transform="matrix(1,0,0,1.07,0,-27.237)">0.2</text>
<text x="302.21" y="406.74" class="v" transform="matrix(1,0,0,1.07,0,-28.273)">0</text>
<text x="347.44" y="406.74" class="v" transform="matrix(1,0,0,1.07,0,-28.273)">0.8</text>
<text x="392.66" y="406.74" class="v" transform="matrix(1,0,0,1.07,0,-28.273)">0.4</text>
<text x="437.89" y="406.74" class="v" transform="matrix(1,0,0,1.07,0,-28.273)">0.2</text>
<rect x="275.50" y="288.60" width="190.00" height="16.60" class="strip"/>
<text x="370.50" y="299.95" class="st">Day 14</text>
<line x1="271.60" x2="275.50" y1="315.80" y2="315.80" class="tk"/>
<line x1="271.60" x2="275.50" y1="330.60" y2="330.60" class="tk"/>
<line x1="271.60" x2="275.50" y1="345.40" y2="345.40" class="tk"/>
<line x1="271.60" x2="275.50" y1="360.20" y2="360.20" class="tk"/>
<line x1="271.60" x2="275.50" y1="375.00" y2="375.00" class="tk"/>
<line x1="271.60" x2="275.50" y1="389.80" y2="389.80" class="tk"/>
<line x1="271.60" x2="275.50" y1="404.60" y2="404.60" class="tk"/>
<text x="475.00" y="165.80" class="lt" transform="matrix(1,0,0,1.07,0,-11.403)">Correlation</text>
<defs><linearGradient id="g" x1="0" y1="0" x2="0" y2="1">
<stop offset="0.0000" stop-color="#ef9800"/>
<stop offset="0.0250" stop-color="#f19d1e"/>
<stop offset="0.0500" stop-color="#f4a22f"/>
<stop offset="0.0750" stop-color="#f6a73d"/>
<stop offset="0.1000" stop-color="#f8ac49"/>
<stop offset="0.1250" stop-color="#fab155"/>
<stop offset="0.1500" stop-color="#fcb661"/>
<stop offset="0.1750" stop-color="#fdbb6d"/>
<stop offset="0.2000" stop-color="#ffc078"/>
<stop offset="0.2250" stop-color="#ffc583"/>
<stop offset="0.2500" stop-color="#ffca8e"/>
<stop offset="0.2750" stop-color="#ffd099"/>
<stop offset="0.3000" stop-color="#ffd5a4"/>
<stop offset="0.3250" stop-color="#ffdab0"/>
<stop offset="0.3500" stop-color="#ffdfbb"/>
<stop offset="0.3750" stop-color="#ffe4c6"/>
<stop offset="0.4000" stop-color="#ffead1"/>
<stop offset="0.4250" stop-color="#ffefdd"/>
<stop offset="0.4500" stop-color="#fff4e8"/>
<stop offset="0.4750" stop-color="#fffaf3"/>
<stop offset="0.5000" stop-color="#ffffff"/>
<stop offset="0.5250" stop-color="#f7fbf4"/>
<stop offset="0.5500" stop-color="#eff7e9"/>
<stop offset="0.5750" stop-color="#e7f3de"/>
<stop offset="0.6000" stop-color="#dfefd3"/>
<stop offset="0.6250" stop-color="#d8ebc8"/>
<stop offset="0.6500" stop-color="#d0e7bd"/>
<stop offset="0.6750" stop-color="#c7e3b2"/>
<stop offset="0.7000" stop-color="#bfdfa8"/>
<stop offset="0.7250" stop-color="#b7db9d"/>
<stop offset="0.7500" stop-color="#afd792"/>
<stop offset="0.7750" stop-color="#a7d387"/>
<stop offset="0.8000" stop-color="#9ecf7d"/>
<stop offset="0.8250" stop-color="#96cb72"/>
<stop offset="0.8500" stop-color="#8dc767"/>
<stop offset="0.8750" stop-color="#84c35c"/>
<stop offset="0.9000" stop-color="#7bbf51"/>
<stop offset="0.9250" stop-color="#72ba46"/>
<stop offset="0.9500" stop-color="#68b639"/>
<stop offset="0.9750" stop-color="#5eb22c"/>
<stop offset="1.0000" stop-color="#53ae1c"/>
</linearGradient></defs>
<rect x="475" y="175.2" width="16.5" height="79.8" fill="url(#g)"/>
<line x1="475" x2="478.3" y1="175.20" y2="175.20" class="lk"/>
<line x1="488.3" x2="491.6" y1="175.20" y2="175.20" class="lk"/>
<text x="495.60" y="178.12" class="ll" transform="matrix(1,0,0,1.07,0,-12.264)">1.0</text>
<line x1="475" x2="478.3" y1="195.15" y2="195.15" class="lk"/>
<line x1="488.3" x2="491.6" y1="195.15" y2="195.15" class="lk"/>
<text x="495.60" y="198.07" class="ll" transform="matrix(1,0,0,1.07,0,-13.661)">0.5</text>
<line x1="475" x2="478.3" y1="215.10" y2="215.10" class="lk"/>
<line x1="488.3" x2="491.6" y1="215.10" y2="215.10" class="lk"/>
<text x="495.60" y="218.02" class="ll" transform="matrix(1,0,0,1.07,0,-15.057)">0.0</text>
<line x1="475" x2="478.3" y1="235.05" y2="235.05" class="lk"/>
<line x1="488.3" x2="491.6" y1="235.05" y2="235.05" class="lk"/>
<text x="495.60" y="237.97" class="ll" transform="matrix(1,0,0,1.07,0,-16.454)">−0.5</text>
<line x1="475" x2="478.3" y1="255.00" y2="255.00" class="lk"/>
<line x1="488.3" x2="491.6" y1="255.00" y2="255.00" class="lk"/>
<text x="495.60" y="257.92" class="ll" transform="matrix(1,0,0,1.07,0,-17.850)">−1.0</text>
<rect x="0.5" y="0.5" width="519" height="418" fill="none" stroke="#505050" stroke-width="1"/>
</svg>
</body></html>
